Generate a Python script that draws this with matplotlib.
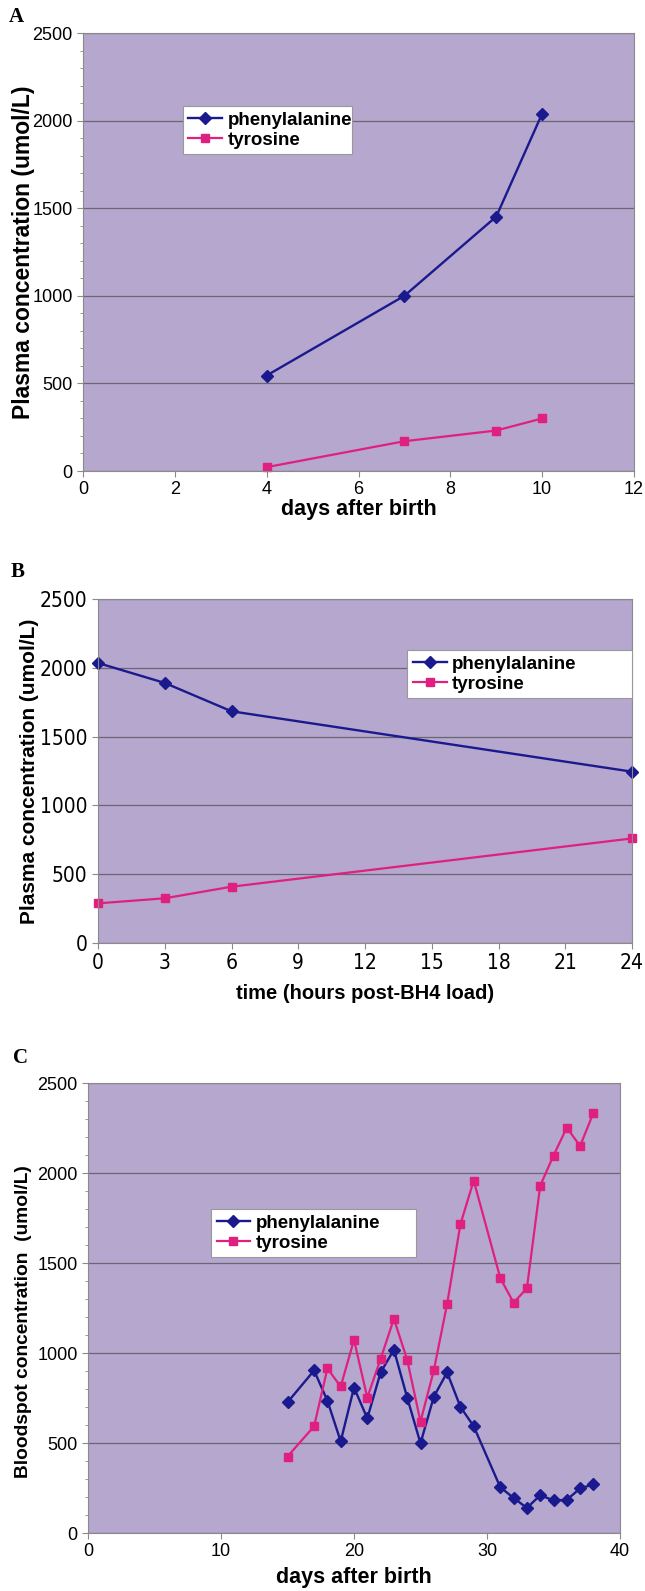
import matplotlib
matplotlib.use("Agg")
import matplotlib.pyplot as plt
from matplotlib.ticker import MultipleLocator

# panel A: plasma levels, days after birth
a_days = [4, 7, 9, 10]
a_phe = [545, 1000, 1452, 2040]
a_tyr = [22, 170, 231, 300]

# panel B: plasma levels after BH4 load
b_hours = [0, 3, 6, 24]
b_phe = [2035, 1890, 1684, 1245]
b_tyr = [288, 325, 409, 760]

# panel C: bloodspot levels
c_phe_days = [15, 17, 18, 19, 20, 21, 22, 23, 24, 25, 26, 27, 28, 29,
              31, 32, 33, 34, 35, 36, 37, 38]
c_phe = [726, 903, 735, 509, 808, 637, 892, 1018, 752, 498, 757, 892,
         701, 593, 254, 195, 139, 210, 181, 184, 248, 270]
c_tyr_days = [15, 17, 18, 19, 20, 21, 22, 23, 24, 25, 26, 27, 28, 29,
              31, 32, 33, 34, 35, 36, 37, 38]
c_tyr = [425, 593, 914, 814, 1073, 752, 967, 1190, 962, 619, 903, 1272,
         1715, 1958, 1416, 1279, 1360, 1929, 2097, 2252, 2150, 2334]

W, H = 645, 1591
BG = "#b5a7cd"
PHE = "#1a1a8e"
TYR = "#e0207f"
SANS = ["Liberation Sans", "DejaVu Sans"]

fig = plt.figure(figsize=(W / 100, H / 100), dpi=100)


def make_axes(left, right, top, bottom):
    return fig.add_axes([left / W, 1 - bottom / H, (right - left) / W, (bottom - top) / H])


def style(ax, xlim, xstep, minor, tick_size, condensed=False):
    ax.set_facecolor(BG)
    ax.set_xlim(*xlim)
    ax.set_ylim(0, 2500)
    ax.xaxis.set_major_locator(MultipleLocator(xstep))
    ax.yaxis.set_major_locator(MultipleLocator(500))
    if minor:
        ax.yaxis.set_minor_locator(MultipleLocator(100))
    ax.grid(axis="y", color="#6a6674", lw=0.9)
    ax.set_axisbelow(True)
    for s in ax.spines.values():
        s.set_color("#8a8a8a")
        s.set_linewidth(0.8)
    ax.tick_params(which="both", color="#8a8a8a", direction="out",
                   labelsize=tick_size, top=False, right=False)
    ax.tick_params(which="major", length=4)
    ax.tick_params(which="minor", length=2.5)
    for lab in ax.get_xticklabels() + ax.get_yticklabels():
        if condensed:
            lab.set_family("DejaVu Sans")
            lab.set_stretch("condensed")
        else:
            lab.set_family(SANS)


def series(ax, x1, y1, x2, y2):
    ax.plot(x1, y1, color=PHE, lw=1.7, marker="D", ms=6, label="phenylalanine", clip_on=False)
    ax.plot(x2, y2, color=TYR, lw=1.6, marker="s", ms=6, label="tyrosine", clip_on=False)


def legend(ax, x, y_top, w):
    leg = ax.legend(loc="upper left", bbox_to_anchor=(x, y_top - 0.1, w, 0.1), mode="expand",
                    borderaxespad=0, fancybox=False, framealpha=1,
                    edgecolor="#999999", handlelength=1.8, handletextpad=0.3,
                    labelspacing=0.15, borderpad=0.3,
                    prop={"family": SANS, "weight": "bold", "size": 13.5})
    leg.get_frame().set_linewidth(0.8)


def labels(ax, xl, yl, xpos, ypos, yc, xsize, ysize):
    ax.set_xlabel(xl, fontsize=xsize, fontweight="bold", family=SANS, va="center")
    ax.set_ylabel(yl, fontsize=ysize, fontweight="bold", family=SANS, va="center")
    ax.xaxis.set_label_coords(0.5, xpos)
    ax.yaxis.set_label_coords(ypos, yc)


# A
axA = make_axes(83, 634, 33, 471)
series(axA, a_days, a_phe, a_days, a_tyr)
style(axA, (0, 12), 2, True, 13)
legend(axA, 0.181, 0.833, 0.307)
labels(axA, "days after birth", "Plasma concentration (umol/L)", -0.088, -0.108, 0.5, 15.5, 16.5)

# B
axB = make_axes(98, 632, 599, 943)
series(axB, b_hours, b_phe, b_hours, b_tyr)
style(axB, (0, 24), 3, False, 15, condensed=True)
legend(axB, 0.579, 0.852, 0.421)
labels(axB, "time (hours post-BH4 load)", "Plasma concentration (umol/L)", -0.148, -0.128, 0.5, 14.5, 15)

# C
axC = make_axes(88, 620, 1083, 1533)
series(axC, c_phe_days, c_phe, c_tyr_days, c_tyr)
style(axC, (0, 40), 10, True, 13)
legend(axC, 0.231, 0.72, 0.386)
labels(axC, "days after birth", "Bloodspot concentration  (umol/L)", -0.1, -0.122, 0.47, 15.5, 13.8)

serif = ["Liberation Serif", "DejaVu Serif"]
fig.text(16 / W, 1 - 17 / H, "A", family=serif, fontweight="bold", fontsize=15, ha="center", va="center")
fig.text(18 / W, 1 - 572 / H, "B", family=serif, fontweight="bold", fontsize=15, ha="center", va="center")
fig.text(20 / W, 1 - 1058 / H, "C", family=serif, fontweight="bold", fontsize=15, ha="center", va="center")

fig.savefig("out.png", dpi=100, facecolor="white")
